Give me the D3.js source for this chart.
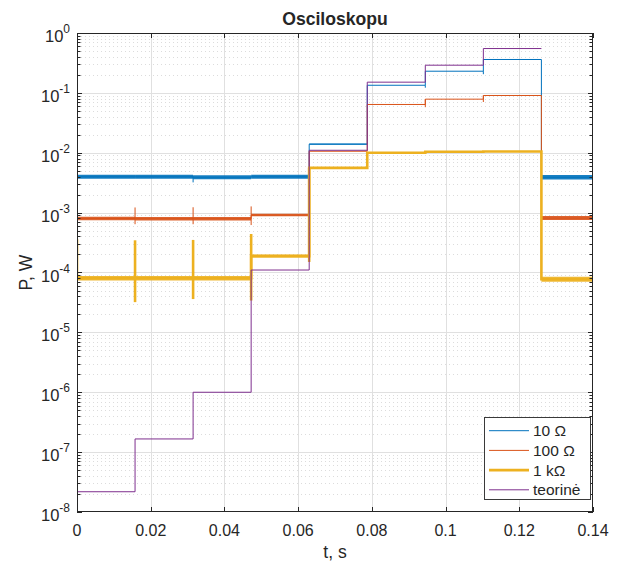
<!DOCTYPE html>
<html><head><meta charset="utf-8">
<script src="https://cdn.jsdelivr.net/npm/d3@7"></script>
<style>
body{margin:0;background:#fff}
svg text{font-family:"Liberation Sans",Arial,Helvetica,sans-serif;fill:#262626}
</style>
</head><body>
<svg id="chart" width="624" height="564"></svg>
<script>
// Switching instants of the staircase (s)
const edges = [0, 0.01575, 0.0315, 0.04725, 0.063, 0.07875, 0.0945, 0.11025, 0.126, 0.14];
const seriesNames = ["10 \u03A9", "100 \u03A9", "1 k\u03A9", "teorin\u0117"];

// Measured power levels per interval (W), noise band as ratio, and transients [t, low, high]
const p10 = [3.96e-3, 3.96e-3, 3.9e-3, 3.96e-3, 0.0139, 0.134, 0.23, 0.361, 3.9e-3];
const p10Noise = [1.08, 1.08, 1.08, 1.08, 1.025, 1, 1, 1, 1.09];
const p10Spikes = [[0.0315, 3.2e-3, 4.1e-3], [0.0945, 0.122, 0.134], [0.11025, 0.205, 0.23]];

const p100 = [8.0e-4, 7.9e-4, 7.9e-4, 9.1e-4, 0.0106, 0.064, 0.0785, 0.0904, 8.1e-4];
const p100Noise = [1.07, 1.07, 1.07, 1.05, 1, 1, 1, 1, 1.08];
const p100Spikes = [[0, 7.2e-4, 1.2e-3], [0.01575, 6.4e-4, 1.22e-3], [0.0315, 6.4e-4, 1.23e-3],
                    [0.04725, 6.2e-4, 1.27e-3], [0.0945, 0.0577, 0.0785], [0.11025, 0.0704, 0.0904]];

const p1k = [8.0e-5, 8.0e-5, 8.0e-5, 1.88e-4, 5.6e-3, 0.0100, 0.0104, 0.0105, 7.7e-5];
const p1kNoise = [1.09, 1.09, 1.09, 1.06, 1.01, 1, 1, 1, 1.1];
const p1kSpikes = [[0, 7.6e-5, 3.6e-4], [0.01575, 3.2e-5, 3.45e-4], [0.0315, 3.6e-5, 3.5e-4],
                   [0.04725, 3.4e-5, 4.4e-4], [0.063, 1.5e-4, 5.6e-3]];

// Theoretical staircase (W), ends at t = 0.126 s
const pTheory = [2.18e-8, 1.66e-7, 1.0e-6, 1.1e-4, 1.1e-2, 0.151, 0.29, 0.55];

const xTicks = [0, 0.02, 0.04, 0.06, 0.08, 0.1, 0.12, 0.14];
const yExponents = [-8, -7, -6, -5, -4, -3, -2, -1, 0];

const svg = d3.select("#chart");
const L = 77, R = 593, T = 33, B = 512;
const x = d3.scaleLinear().domain([0, 0.14]).range([L, R]);
const y = d3.scaleLog().domain([1e-8, 1]).range([B, T]);
const ink = "#262626";

// grid
const grid = svg.append("g");
const minorY = y.ticks().filter(v => Math.abs(Math.log10(v) - Math.round(Math.log10(v))) > 1e-6);
grid.selectAll("line.minor").data(minorY).join("line")
  .attr("x1", L).attr("x2", R).attr("y1", d => Math.round(y(d)) + 0.5).attr("y2", d => Math.round(y(d)) + 0.5)
  .attr("stroke", "#dcdcdc").attr("stroke-dasharray", "1,3");
grid.selectAll("line.majy").data(yExponents.slice(1, -1)).join("line")
  .attr("x1", L).attr("x2", R).attr("y1", d => Math.round(y(Math.pow(10, d))) + 0.5).attr("y2", d => Math.round(y(Math.pow(10, d))) + 0.5)
  .attr("stroke", "#e0e0e0");
grid.selectAll("line.majx").data(xTicks.slice(1, -1)).join("line")
  .attr("y1", T).attr("y2", B).attr("x1", d => Math.round(x(d)) + 0.5).attr("x2", d => Math.round(x(d)) + 0.5)
  .attr("stroke", "#e0e0e0");

// data
svg.append("clipPath").attr("id", "clip").append("rect")
  .attr("x", L).attr("y", T - 2).attr("width", R - L + 2).attr("height", B - T + 2);
const plot = svg.append("g").attr("clip-path", "url(#clip)");

function stepPoints(levels) {
  const pts = [];
  levels.forEach((v, i) => { pts.push([edges[i], v]); pts.push([edges[i + 1], v]); });
  return pts;
}
const line = d3.line().x(d => x(d[0])).y(d => y(d[1]));
const band = d3.area().x(d => x(d[0])).y0(d => y(d[1] / d[2])).y1(d => y(d[1] * d[2]));

function drawSeries(levels, noise, spikes, color, width) {
  const g = plot.append("g");
  levels.forEach((v, i) => {
    if (noise[i] > 1) {
      g.append("path").attr("d", band([[edges[i], v, noise[i]], [edges[i + 1], v, noise[i]]]))
        .attr("fill", color).attr("opacity", 0.9);
    }
  });
  g.append("path").attr("d", line(stepPoints(levels)))
    .attr("fill", "none").attr("stroke", color).attr("stroke-width", width);
  g.selectAll("line").data(spikes).join("line")
    .attr("x1", d => x(d[0])).attr("x2", d => x(d[0]))
    .attr("y1", d => y(d[1])).attr("y2", d => y(d[2]))
    .attr("stroke", color).attr("stroke-width", width);
}
const colors = ["#0072BD", "#D95319", "#EDB120", "#7E2F8E"];
const widths = [1, 1, 2.6, 1];
drawSeries(p10, p10Noise, p10Spikes, colors[0], widths[0]);
drawSeries(p100, p100Noise, p100Spikes, colors[1], widths[1]);
drawSeries(p1k, p1kNoise, p1kSpikes, colors[2], widths[2]);
plot.append("path").attr("d", line(stepPoints(pTheory)))
  .attr("fill", "none").attr("stroke", colors[3]).attr("stroke-width", widths[3]);

// axes box and ticks
const ax = svg.append("g").attr("stroke", ink).attr("fill", "none");
ax.append("rect").attr("x", L + 0.5).attr("y", T + 0.5).attr("width", R - L - 1).attr("height", B - T - 1);
xTicks.forEach(t => {
  const px = Math.round(x(t)) + 0.5;
  ax.append("line").attr("x1", px).attr("x2", px).attr("y1", B).attr("y2", B - 5);
  ax.append("line").attr("x1", px).attr("x2", px).attr("y1", T).attr("y2", T + 5);
});
y.ticks().forEach(v => {
  const major = Math.abs(Math.log10(v) - Math.round(Math.log10(v))) < 1e-6;
  const len = major ? 5 : 3.5;
  const py = Math.round(y(v)) + 0.5;
  ax.append("line").attr("x1", L).attr("x2", L + len).attr("y1", py).attr("y2", py);
  ax.append("line").attr("x1", R).attr("x2", R - len).attr("y1", py).attr("y2", py);
});

// tick labels
svg.append("g").selectAll("text").data(xTicks).join("text")
  .attr("x", d => x(d)).attr("y", 536).attr("text-anchor", "middle")
  .style("font-size", "16px").text(d => d3.format("~g")(d));
const yl = svg.append("g").selectAll("text").data(yExponents).join("text")
  .attr("x", 70).attr("y", d => y(Math.pow(10, d)) + 9).attr("text-anchor", "end")
  .style("font-size", "16.5px");
yl.append("tspan").text("10");
yl.append("tspan").attr("dy", -9).style("font-size", "12px").text(d => d === 0 ? "0" : "-" + Math.abs(d));

// titles
svg.append("text").attr("x", (L + R) / 2).attr("y", 25).attr("text-anchor", "middle")
  .style("font-size", "17.6px").style("font-weight", "bold").text("Osciloskopu");
svg.append("text").attr("x", (L + R) / 2).attr("y", 558).attr("text-anchor", "middle")
  .style("font-size", "17.6px").text("t, s");
svg.append("text").attr("transform", `translate(32,${(T + B) / 2}) rotate(-90)`).attr("text-anchor", "middle")
  .style("font-size", "17.6px").text("P, W");

// legend
const lg = svg.append("g");
lg.append("rect").attr("x", 484.5).attr("y", 417.5).attr("width", 106).attr("height", 82)
  .attr("fill", "#fff").attr("stroke", "#3a3a3a");
seriesNames.forEach((name, i) => {
  const cy = 430.7 + i * 19.7;
  lg.append("line").attr("x1", 489).attr("x2", 529).attr("y1", cy).attr("y2", cy)
    .attr("stroke", colors[i]).attr("stroke-width", i === 2 ? 2.8 : 1);
  lg.append("text").attr("x", 533).attr("y", cy + 5.5).style("font-size", "15.5px").text(name);
});
</script>
</body></html>
